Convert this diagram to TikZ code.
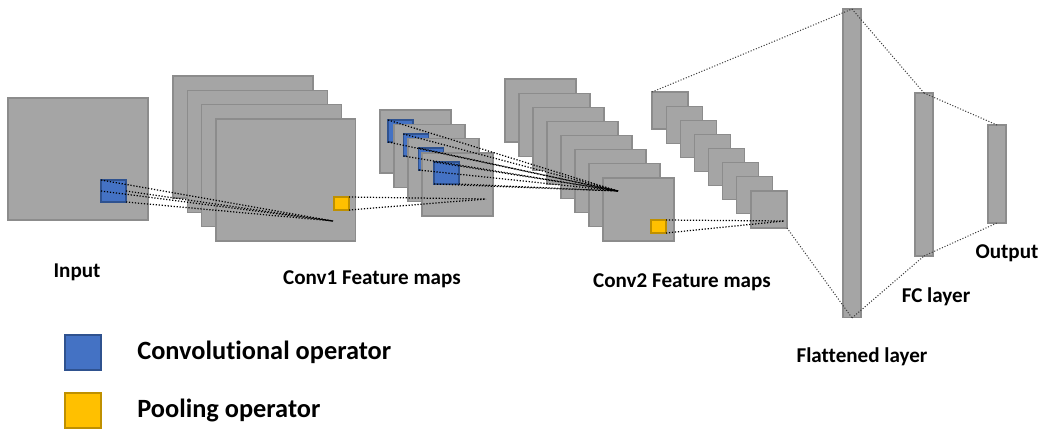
\documentclass[tikz,border=0pt]{standalone}
\usepackage{fontspec}
\setmainfont{Carlito}[Ligatures=NoCommon]
\usetikzlibrary{positioning}
\definecolor{mapgray}{RGB}{165,165,165}
\definecolor{mapedge}{RGB}{140,140,140}
\definecolor{convblue}{RGB}{68,114,196}
\definecolor{convedge}{RGB}{47,82,143}
\definecolor{poolyellow}{RGB}{255,192,0}
\definecolor{pooledge}{RGB}{191,144,0}

\begin{document}
\begin{tikzpicture}[
    x=0.02cm, y=-0.02cm,
    fmap/.style={rectangle, draw=mapedge, fill=mapgray, line width=0.6pt, anchor=north west, inner sep=0, outer sep=0},
    bigmap/.style={fmap, minimum width=2.8cm, minimum height=2.44cm},
    midmap/.style={fmap, minimum width=1.42cm, minimum height=1.26cm},
    smallmap/.style={fmap, minimum width=0.72cm, minimum height=0.74cm},
    bar/.style={fmap, minimum width=0.36cm},
    convop/.style={fmap, draw=convedge, fill=convblue, minimum width=0.5cm, minimum height=0.44cm},
    poolop/.style={fmap, draw=pooledge, fill=poolyellow, minimum width=0.3cm, minimum height=0.26cm},
    link/.style={densely dotted, line width=0.7pt, black},
    fclink/.style={densely dotted, line width=0.6pt, black!75},
    lbl/.style={font=\fontsize{12}{14}\selectfont\bfseries},
    legtext/.style={font=\fontsize{15}{18}\selectfont\bfseries, inner sep=0}
]
\useasboundingbox (0,0) rectangle (1042,434);

% Input
\node[bigmap] (inp) at (8,98) {};
\node[convop] (inconv) at (101,180) {};

% Conv1 feature maps
\foreach \i in {0,...,3}
    \node[bigmap] (ca\i) at ({173+14.33*\i},{76+14.33*\i}) {};
\node[poolop] (capool) at (334,197) {};

% Pooled maps after conv1
\foreach \i in {0,...,3} {
    \node[midmap] (pa\i) at ({380+14*\i},{110+14.33*\i}) {};
    \node[convop] (paconv\i) at ({388+15.33*\i},{120+14*\i}) {};
}

% Conv2 feature maps
\foreach \i in {0,...,7}
    \node[midmap] (cb\i) at ({505+14*\i},{79+14.14*\i}) {};
\node[poolop] (cbpool) at (651,220) {};

% Pooled maps after conv2
\foreach \i in {0,...,7}
    \node[smallmap] (pb\i) at ({652+14.14*\i},{92+14.14*\i}) {};

% Dense layers
\node[bar, minimum height=6.18cm] (flat) at (843,9) {};
\node[bar, minimum height=3.26cm] (fc) at (915,93) {};
\node[bar, minimum height=1.96cm] (out) at (988,125) {};

% Receptive field lines
\coordinate (fa) at (333,221);
\coordinate (fb) at (486,199);
\coordinate (fcv) at (618,191);
\coordinate (fd) at (784,221);
\foreach \a in {north west, east, west, south east}
    \draw[link] (inconv.\a) -- (fa);
\foreach \a in {north east, south east}
    \draw[link] (capool.\a) -- (fb);
\foreach \i in {0,...,3}
    \foreach \a in {north west, south west}
        \draw[link] (paconv\i.\a) -- (fcv);
\draw[link] (paconv3.south east) -- (fcv);
\foreach \a in {north east, south east}
    \draw[link] (cbpool.\a) -- (fd);

% Dense connections
\draw[fclink] (pb0.north west) -- (flat.north);
\draw[fclink] (pb7.south east) -- (flat.south);
\draw[fclink] (flat.north) -- (fc.north);
\draw[fclink] (flat.south) -- (fc.south);
\draw[fclink] (fc.north) -- (out.north);
\draw[fclink] (fc.south) -- (out.south);

% Labels
\node[lbl] (linp) at (77,272) {Input};
\node[lbl] (lca) at (372,279) {Conv1 Feature maps};
\node[lbl] (lcb) at (682,282) {Conv2 Feature maps};
\node[lbl] (lflat) at (862,357) {Flattened layer};
\node[lbl] (lfc) at (936,297) {FC layer};
\node[lbl] (lout) at (1007,253) {Output};

% Legend
\node[fmap, draw=convedge, fill=convblue, minimum width=0.72cm, minimum height=0.7cm] (legconv) at (65,335) {};
\node[legtext, right=0.72cm of legconv] (legconvt) {Convolutional operator};
\node[fmap, draw=pooledge, fill=poolyellow, minimum width=0.72cm, minimum height=0.7cm] (legpool) at (65,393) {};
\node[legtext, right=0.72cm of legpool] (legpoolt) {Pooling operator};

\end{tikzpicture}
\end{document}
